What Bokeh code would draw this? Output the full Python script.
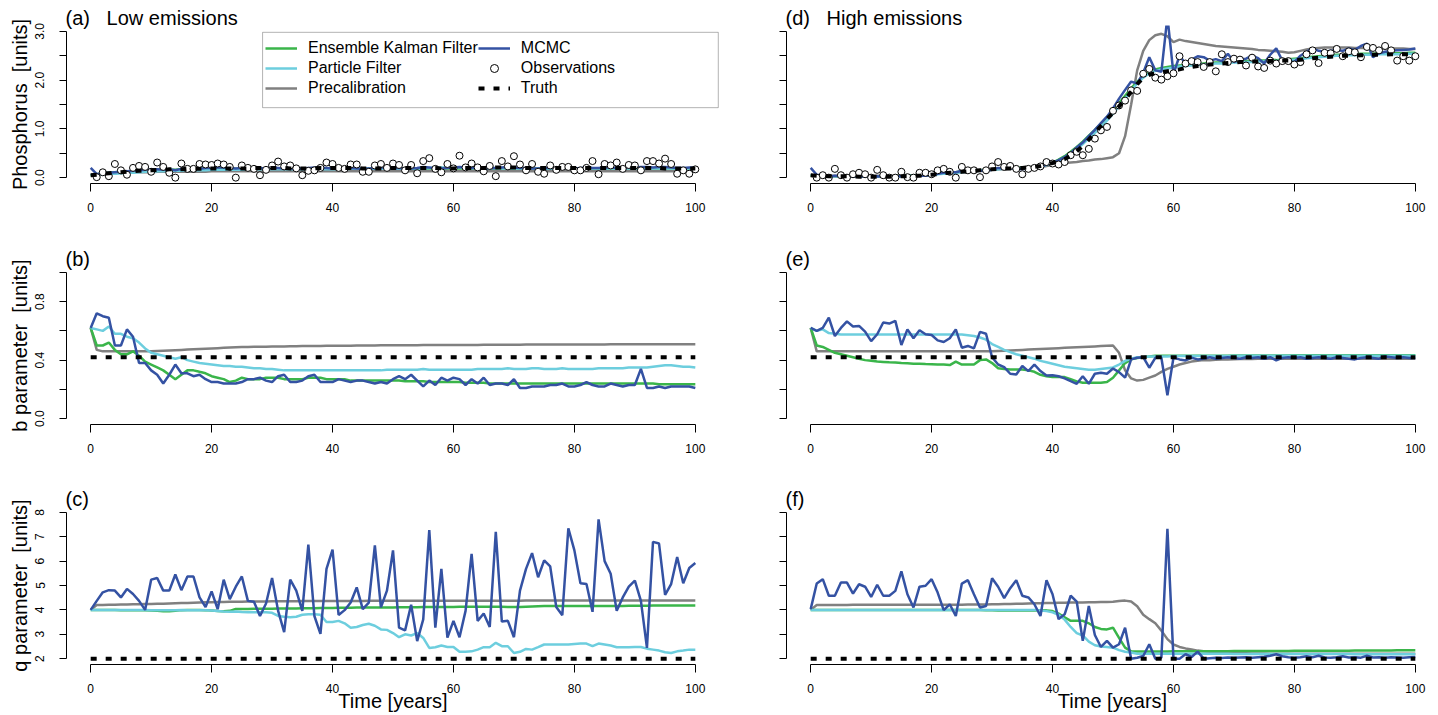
from bokeh.plotting import figure
from bokeh.layouts import column, row
from bokeh.models import FixedTicker, Legend, LegendItem, BoxAnnotation, Range1d
from bokeh.embed import file_html
from bokeh.resources import INLINE

FONT = "Liberation Sans"
C_ENKF = "#3AB54A"
C_PF = "#6DCEDE"
C_PRE = "#808080"
C_MCMC = "#3452A3"

years = list(range(101))
obs_years = list(range(1, 101))

# ---------------- (a) Low emissions, phosphorus ----------------
truth_a = [0.05,0.06,0.08,0.09,0.10,0.11,0.12,0.13,0.14,0.14,
           0.15,0.16,0.16,0.17,0.17,0.17,0.18,0.18,0.18,0.19,
           0.19,0.19,0.19,0.19,0.19,0.19,0.19,0.20,0.20,0.20,
           0.20,0.20,0.20,0.19,0.19,0.19,0.19,0.19,0.20,0.20,
           0.20,0.20,0.20,0.20,0.20,0.19,0.19,0.19,0.19,0.20,
           0.20,0.20,0.20,0.20,0.20,0.20,0.20,0.20,0.19,0.19,
           0.19,0.20,0.20,0.20,0.20,0.20,0.20,0.21,0.21,0.21,
           0.21,0.20,0.20,0.20,0.20,0.20,0.20,0.20,0.20,0.20,
           0.20,0.20,0.20,0.20,0.20,0.20,0.20,0.20,0.20,0.20,
           0.20,0.20,0.20,0.20,0.20,0.19,0.19,0.19,0.19,0.19,
           0.19]
obs_a = [0.01,0.11,0.03,0.28,0.15,0.06,0.20,0.24,0.22,0.12,
         0.31,0.22,0.10,0.00,0.29,0.18,0.18,0.28,0.27,0.26,
         0.29,0.27,0.22,0.00,0.25,0.20,0.18,0.05,0.16,0.25,
         0.33,0.23,0.25,0.19,0.05,0.14,0.15,0.20,0.31,0.28,
         0.20,0.18,0.27,0.27,0.12,0.12,0.25,0.28,0.20,0.29,
         0.26,0.15,0.26,0.09,0.34,0.40,0.18,0.11,0.28,0.19,
         0.45,0.21,0.29,0.21,0.13,0.24,0.03,0.34,0.23,0.44,
         0.27,0.15,0.28,0.12,0.08,0.25,0.16,0.22,0.22,0.15,
         0.15,0.20,0.34,0.07,0.28,0.25,0.31,0.18,0.26,0.25,
         0.15,0.34,0.34,0.29,0.39,0.28,0.08,0.15,0.08,0.17]
mcmc_a = [0.20,0.07,0.09,0.10,0.11,0.12,0.13,0.14,0.15,0.16,
          0.17,0.17,0.16,0.17,0.15,0.18,0.19,0.18,0.18,0.20,
          0.20,0.21,0.21,0.20,0.19,0.20,0.19,0.18,0.19,0.20,
          0.21,0.20,0.19,0.19,0.18,0.19,0.20,0.21,0.21,0.20,
          0.19,0.20,0.21,0.20,0.19,0.18,0.19,0.20,0.21,0.21,
          0.20,0.20,0.19,0.19,0.20,0.22,0.21,0.19,0.19,0.20,
          0.21,0.22,0.21,0.20,0.20,0.20,0.19,0.20,0.21,0.22,
          0.21,0.20,0.20,0.19,0.19,0.20,0.20,0.20,0.20,0.19,
          0.19,0.20,0.21,0.20,0.20,0.21,0.21,0.20,0.20,0.21,
          0.21,0.22,0.22,0.21,0.22,0.22,0.21,0.20,0.20,0.21,
          0.21]
enkf_a = [0.05,0.07,0.09,0.10,0.11,0.12,0.13,0.13,0.14,0.15,
          0.15,0.16,0.16,0.16,0.16,0.17,0.17,0.17,0.18,0.18,
          0.18,0.18,0.18,0.18,0.18,0.18,0.18,0.18,0.18,0.18,
          0.18,0.18,0.18,0.18,0.18,0.18,0.18,0.18,0.18,0.18,
          0.18,0.18,0.18,0.18,0.18,0.18,0.18,0.18,0.18,0.18,
          0.18,0.18,0.18,0.18,0.18,0.18,0.19,0.19,0.19,0.19,
          0.19,0.19,0.19,0.19,0.19,0.19,0.19,0.19,0.19,0.19,
          0.19,0.19,0.19,0.19,0.19,0.19,0.19,0.19,0.19,0.19,
          0.19,0.19,0.19,0.19,0.19,0.19,0.19,0.19,0.19,0.19,
          0.19,0.19,0.19,0.19,0.19,0.19,0.19,0.19,0.19,0.19,
          0.19]
pf_a = [0.05,0.06,0.07,0.08,0.08,0.09,0.10,0.10,0.11,0.12,
        0.12,0.13,0.13,0.14,0.14,0.14,0.15,0.15,0.15,0.15,
        0.16,0.16,0.16,0.16,0.16,0.16,0.17,0.17,0.17,0.17,
        0.17,0.17,0.17,0.17,0.17,0.17,0.17,0.17,0.17,0.17,
        0.17,0.17,0.17,0.18,0.18,0.18,0.18,0.18,0.18,0.18,
        0.18,0.18,0.18,0.19,0.19,0.19,0.20,0.21,0.21,0.21,
        0.21,0.21,0.21,0.20,0.20,0.20,0.20,0.20,0.19,0.19,
        0.19,0.19,0.19,0.19,0.19,0.19,0.19,0.19,0.19,0.19,
        0.19,0.19,0.19,0.19,0.19,0.19,0.19,0.19,0.19,0.19,
        0.19,0.19,0.19,0.19,0.19,0.19,0.19,0.19,0.19,0.19,
        0.19]
pre_a = [0.05,0.07,0.08,0.09,0.09,0.10,0.10,0.11,0.11,0.11,
         0.11,0.12,0.12,0.12,0.12,0.12,0.12,0.12,0.12,0.12,
         0.13,0.13,0.13,0.13,0.13,0.13,0.13,0.13,0.13,0.13,
         0.13,0.13,0.13,0.13,0.13,0.13,0.13,0.13,0.13,0.13,
         0.13,0.13,0.13,0.13,0.13,0.13,0.13,0.13,0.13,0.13,
         0.13,0.13,0.13,0.13,0.13,0.13,0.13,0.13,0.13,0.13,
         0.13,0.13,0.13,0.13,0.13,0.13,0.13,0.13,0.13,0.13,
         0.13,0.13,0.13,0.13,0.13,0.13,0.13,0.13,0.13,0.13,
         0.13,0.13,0.13,0.13,0.13,0.13,0.13,0.13,0.13,0.13,
         0.13,0.13,0.13,0.13,0.13,0.13,0.13,0.13,0.13,0.13,
         0.13]

# ---------------- (d) High emissions, phosphorus ----------------
truth_d = [0.05,0.04,0.04,0.03,0.03,0.03,0.03,0.03,0.02,0.02,
           0.02,0.02,0.02,0.02,0.03,0.03,0.03,0.04,0.04,0.05,
           0.06,0.07,0.09,0.10,0.11,0.12,0.13,0.14,0.15,0.16,
           0.17,0.18,0.19,0.19,0.20,0.20,0.21,0.22,0.24,0.27,
           0.30,0.34,0.38,0.45,0.54,0.65,0.78,0.92,1.06,1.20,
           1.33,1.46,1.60,1.76,1.92,2.05,2.11,2.14,2.16,2.18,
           2.20,2.22,2.25,2.27,2.29,2.31,2.32,2.33,2.34,2.35,
           2.36,2.37,2.37,2.38,2.38,2.39,2.39,2.40,2.40,2.40,
           2.41,2.42,2.43,2.45,2.46,2.47,2.48,2.49,2.50,2.50,
           2.50,2.51,2.51,2.52,2.52,2.52,2.53,2.53,2.53,2.53,
           2.54]
obs_d = [0.00,0.05,0.00,0.18,0.05,0.00,0.07,0.10,0.07,0.00,
         0.16,0.05,0.00,0.00,0.12,0.01,0.00,0.10,0.10,0.07,
         0.15,0.18,0.12,0.00,0.22,0.15,0.15,0.01,0.15,0.23,
         0.32,0.22,0.24,0.18,0.07,0.18,0.20,0.23,0.32,0.29,
         0.27,0.32,0.46,0.53,0.46,0.59,0.80,0.97,1.04,1.37,
         1.48,1.58,1.79,1.78,2.13,2.23,2.05,2.01,2.08,2.14,
         2.49,2.34,2.39,2.37,2.27,2.37,2.18,2.53,2.37,2.44,
         2.42,2.30,2.46,2.28,2.25,2.40,2.34,2.39,2.39,2.32,
         2.37,2.53,2.61,2.35,2.56,2.55,2.64,2.49,2.59,2.57,
         2.47,2.68,2.66,2.61,2.70,2.61,2.40,2.49,2.40,2.49]
mcmc_d = [0.20,0.06,0.05,0.02,0.04,0.03,0.02,0.03,0.02,0.03,
          0.02,0.03,0.02,0.02,0.03,0.03,0.02,0.03,0.04,0.04,
          0.05,0.08,0.10,0.11,0.11,0.14,0.14,0.15,0.14,0.14,
          0.16,0.20,0.19,0.20,0.18,0.17,0.19,0.20,0.22,0.27,
          0.30,0.36,0.42,0.50,0.62,0.72,0.85,0.98,1.12,1.25,
          1.42,1.62,1.80,1.97,1.93,2.15,2.47,2.20,2.17,3.30,
          2.13,2.50,2.34,2.42,2.49,2.47,2.40,2.43,2.39,2.54,
          2.37,2.42,2.44,2.50,2.45,2.34,2.52,2.65,2.40,2.38,
          2.37,2.50,2.58,2.65,2.60,2.58,2.60,2.61,2.60,2.65,
          2.62,2.70,2.75,2.47,2.55,2.58,2.60,2.61,2.62,2.63,
          2.65]
enkf_d = [0.05,0.04,0.04,0.03,0.03,0.03,0.03,0.03,0.03,0.03,
          0.03,0.03,0.03,0.03,0.03,0.04,0.04,0.04,0.05,0.05,
          0.06,0.08,0.09,0.10,0.11,0.12,0.13,0.14,0.15,0.16,
          0.17,0.18,0.19,0.20,0.20,0.21,0.21,0.22,0.24,0.27,
          0.31,0.37,0.44,0.53,0.63,0.74,0.86,0.98,1.11,1.24,
          1.38,1.53,1.68,1.83,1.97,2.08,2.17,2.22,2.25,2.27,
          2.29,2.30,2.31,2.32,2.33,2.34,2.35,2.36,2.36,2.37,
          2.38,2.38,2.39,2.39,2.40,2.40,2.41,2.41,2.42,2.43,
          2.44,2.45,2.47,2.48,2.49,2.50,2.51,2.52,2.52,2.53,
          2.53,2.54,2.54,2.54,2.55,2.55,2.55,2.55,2.55,2.56,
          2.56]
pf_d = [0.05,0.04,0.04,0.03,0.03,0.03,0.03,0.03,0.03,0.03,
        0.03,0.03,0.03,0.03,0.03,0.03,0.04,0.04,0.04,0.05,
        0.05,0.07,0.08,0.09,0.10,0.11,0.12,0.13,0.14,0.15,
        0.16,0.17,0.18,0.19,0.19,0.20,0.20,0.21,0.23,0.26,
        0.29,0.34,0.41,0.49,0.58,0.69,0.80,0.92,1.04,1.17,
        1.31,1.46,1.62,1.78,1.93,2.05,2.14,2.19,2.22,2.24,
        2.26,2.28,2.29,2.30,2.31,2.32,2.33,2.34,2.34,2.35,
        2.36,2.36,2.37,2.37,2.38,2.38,2.39,2.39,2.40,2.41,
        2.42,2.43,2.45,2.46,2.47,2.48,2.49,2.50,2.50,2.51,
        2.51,2.52,2.52,2.52,2.53,2.53,2.53,2.53,2.53,2.54,
        2.54]
pre_d = [0.05,0.04,0.04,0.04,0.04,0.04,0.04,0.04,0.04,0.04,
         0.04,0.04,0.04,0.04,0.04,0.05,0.05,0.05,0.06,0.06,
         0.07,0.08,0.09,0.10,0.11,0.12,0.13,0.14,0.15,0.16,
         0.16,0.17,0.17,0.18,0.18,0.19,0.19,0.20,0.22,0.24,
         0.26,0.28,0.30,0.31,0.32,0.34,0.35,0.37,0.38,0.40,
         0.42,0.50,0.85,1.50,2.20,2.60,2.82,2.92,2.95,2.90,
         2.78,2.83,2.80,2.78,2.76,2.74,2.72,2.70,2.69,2.68,
         2.67,2.66,2.65,2.64,2.62,2.61,2.60,2.59,2.58,2.56,
         2.57,2.60,2.63,2.65,2.66,2.67,2.67,2.67,2.67,2.67,
         2.66,2.66,2.66,2.66,2.65,2.65,2.65,2.65,2.65,2.64,
         2.64]

# ---------------- (b) Low emissions, b parameter ----------------
truth_b = [0.42] * len(years)
mcmc_b = [0.62,0.72,0.70,0.69,0.50,0.50,0.61,0.56,0.38,0.38,
          0.33,0.30,0.24,0.30,0.37,0.31,0.31,0.29,0.30,0.27,
          0.25,0.25,0.24,0.24,0.24,0.25,0.27,0.27,0.28,0.26,
          0.25,0.29,0.30,0.25,0.25,0.26,0.29,0.30,0.25,0.25,
          0.25,0.27,0.26,0.25,0.26,0.26,0.25,0.24,0.25,0.24,
          0.27,0.29,0.27,0.30,0.26,0.22,0.26,0.23,0.28,0.26,
          0.28,0.27,0.23,0.27,0.24,0.28,0.23,0.24,0.24,0.23,
          0.27,0.21,0.21,0.22,0.22,0.22,0.23,0.23,0.24,0.22,
          0.22,0.23,0.25,0.23,0.22,0.22,0.24,0.23,0.22,0.23,
          0.23,0.34,0.21,0.21,0.22,0.21,0.22,0.22,0.22,0.22,
          0.21]
enkf_b = [0.62,0.50,0.50,0.52,0.47,0.44,0.44,0.46,0.43,0.39,
          0.37,0.35,0.33,0.30,0.27,0.30,0.33,0.33,0.32,0.31,
          0.29,0.28,0.27,0.25,0.26,0.28,0.27,0.27,0.27,0.28,
          0.28,0.28,0.27,0.27,0.27,0.27,0.28,0.28,0.28,0.27,
          0.27,0.27,0.27,0.26,0.26,0.26,0.26,0.26,0.26,0.26,
          0.26,0.26,0.255,0.255,0.255,0.255,0.25,0.25,0.25,0.25,
          0.25,0.25,0.245,0.245,0.245,0.245,0.24,0.24,0.24,0.24,
          0.24,0.24,0.24,0.24,0.24,0.24,0.24,0.24,0.24,0.24,
          0.24,0.24,0.24,0.24,0.24,0.24,0.24,0.24,0.24,0.24,
          0.24,0.24,0.24,0.24,0.235,0.235,0.235,0.235,0.235,0.235,
          0.235]
pf_b = [0.62,0.61,0.60,0.63,0.58,0.58,0.56,0.55,0.52,0.48,
        0.45,0.44,0.43,0.42,0.41,0.42,0.40,0.39,0.38,0.375,
        0.37,0.365,0.36,0.36,0.355,0.355,0.35,0.345,0.345,0.34,
        0.34,0.335,0.33,0.33,0.33,0.33,0.33,0.33,0.33,0.33,
        0.33,0.33,0.33,0.33,0.33,0.33,0.33,0.33,0.33,0.335,
        0.335,0.335,0.335,0.335,0.335,0.34,0.335,0.335,0.335,0.335,
        0.335,0.335,0.335,0.335,0.34,0.34,0.34,0.34,0.34,0.345,
        0.34,0.34,0.34,0.345,0.345,0.34,0.34,0.34,0.345,0.34,
        0.34,0.34,0.34,0.34,0.345,0.345,0.345,0.345,0.345,0.35,
        0.35,0.35,0.35,0.355,0.36,0.365,0.365,0.36,0.355,0.355,
        0.35]
pre_b = [0.62,0.47,0.46,0.46,0.46,0.46,0.46,0.46,0.46,0.46,
         0.46,0.462,0.464,0.466,0.468,0.47,0.472,0.474,0.476,0.478,
         0.48,0.482,0.484,0.486,0.488,0.49,0.49,0.491,0.492,0.492,
         0.493,0.494,0.494,0.495,0.495,0.496,0.496,0.497,0.497,0.498,
         0.498,0.498,0.499,0.499,0.5,0.5,0.5,0.5,0.501,0.501,
         0.501,0.502,0.502,0.502,0.502,0.503,0.503,0.503,0.503,0.503,
         0.504,0.504,0.504,0.504,0.504,0.505,0.505,0.505,0.505,0.505,
         0.505,0.505,0.506,0.506,0.506,0.506,0.506,0.506,0.506,0.507,
         0.507,0.507,0.507,0.507,0.507,0.507,0.508,0.508,0.508,0.508,
         0.508,0.508,0.508,0.508,0.508,0.509,0.509,0.509,0.509,0.509,
         0.509]

# ---------------- (e) High emissions, b parameter ----------------
truth_e = [0.42] * len(years)
mcmc_e = [0.62,0.60,0.62,0.69,0.565,0.62,0.665,0.63,0.634,0.595,
          0.53,0.577,0.657,0.65,0.668,0.503,0.61,0.55,0.604,0.577,
          0.572,0.535,0.524,0.55,0.61,0.485,0.497,0.48,0.593,0.58,
          0.42,0.37,0.352,0.307,0.302,0.36,0.325,0.37,0.325,0.295,
          0.297,0.29,0.275,0.256,0.238,0.29,0.238,0.307,0.313,0.307,
          0.343,0.318,0.28,0.405,0.416,0.42,0.348,0.416,0.416,0.16,
          0.416,0.405,0.398,0.416,0.405,0.41,0.42,0.41,0.415,0.42,
          0.415,0.41,0.42,0.415,0.42,0.41,0.42,0.398,0.415,0.42,
          0.415,0.42,0.41,0.415,0.42,0.415,0.41,0.42,0.415,0.41,
          0.405,0.415,0.42,0.415,0.41,0.425,0.42,0.415,0.42,0.415,
          0.415]
enkf_e = [0.62,0.50,0.49,0.47,0.45,0.44,0.43,0.42,0.41,0.40,
          0.395,0.39,0.388,0.385,0.383,0.38,0.378,0.376,0.375,0.373,
          0.372,0.37,0.37,0.366,0.39,0.37,0.37,0.37,0.40,0.405,
          0.38,0.345,0.34,0.336,0.336,0.336,0.33,0.32,0.30,0.29,
          0.284,0.284,0.284,0.27,0.255,0.245,0.245,0.245,0.245,0.25,
          0.28,0.33,0.38,0.405,0.415,0.42,0.425,0.43,0.43,0.43,
          0.43,0.43,0.43,0.43,0.43,0.43,0.43,0.43,0.43,0.43,
          0.432,0.432,0.432,0.432,0.432,0.432,0.432,0.432,0.432,0.432,
          0.433,0.433,0.433,0.433,0.433,0.433,0.433,0.433,0.433,0.433,
          0.434,0.434,0.434,0.434,0.434,0.434,0.434,0.434,0.434,0.434,
          0.434]
pf_e = [0.62,0.60,0.61,0.585,0.58,0.575,0.575,0.575,0.575,0.575,
        0.575,0.575,0.575,0.575,0.575,0.575,0.575,0.575,0.575,0.575,
        0.575,0.575,0.575,0.575,0.575,0.575,0.57,0.565,0.555,0.54,
        0.51,0.49,0.47,0.455,0.44,0.43,0.42,0.41,0.395,0.385,
        0.375,0.365,0.355,0.35,0.345,0.34,0.335,0.335,0.34,0.345,
        0.35,0.37,0.395,0.41,0.42,0.42,0.425,0.425,0.425,0.425,
        0.428,0.428,0.428,0.428,0.428,0.428,0.428,0.428,0.428,0.428,
        0.43,0.43,0.43,0.43,0.43,0.43,0.43,0.43,0.43,0.43,
        0.43,0.43,0.43,0.43,0.43,0.43,0.43,0.43,0.43,0.43,
        0.43,0.43,0.43,0.43,0.43,0.43,0.43,0.43,0.43,0.43,
        0.43]
pre_e = [0.62,0.46,0.46,0.46,0.46,0.46,0.46,0.46,0.46,0.46,
         0.46,0.46,0.46,0.46,0.46,0.46,0.46,0.46,0.46,0.46,
         0.46,0.46,0.46,0.46,0.46,0.46,0.46,0.46,0.46,0.46,
         0.46,0.462,0.464,0.466,0.468,0.47,0.472,0.474,0.476,0.478,
         0.48,0.482,0.484,0.486,0.488,0.49,0.492,0.494,0.496,0.498,
         0.50,0.45,0.33,0.275,0.26,0.265,0.28,0.295,0.32,0.34,
         0.355,0.37,0.38,0.39,0.395,0.40,0.40,0.402,0.404,0.405,
         0.406,0.407,0.408,0.408,0.409,0.409,0.41,0.41,0.41,0.41,
         0.41,0.41,0.41,0.41,0.41,0.41,0.41,0.41,0.41,0.41,
         0.41,0.41,0.41,0.41,0.41,0.41,0.41,0.41,0.41,0.41,
         0.41]

# ---------------- (c) Low emissions, q parameter ----------------
truth_c = [2.0] * len(years)
mcmc_c = [4.00,4.37,4.72,4.81,4.79,4.51,4.86,4.65,4.37,4.00,
          5.24,5.31,4.79,4.79,5.45,4.81,5.37,5.37,4.51,4.12,
          4.76,4.03,5.24,4.44,4.95,5.37,4.37,4.33,3.75,4.26,
          5.31,3.96,3.09,5.24,4.79,3.96,6.68,3.75,3.02,5.68,
          6.47,3.79,3.99,4.30,4.92,4.03,4.30,6.65,4.10,4.79,
          6.44,3.27,3.16,4.21,2.72,3.61,7.27,3.27,5.68,2.86,
          3.55,2.88,3.96,6.30,3.55,3.85,3.30,7.20,3.52,3.55,
          2.88,4.79,5.68,6.33,5.34,6.03,5.78,4.12,3.78,7.34,
          6.44,5.09,5.06,3.92,7.71,6.00,5.48,3.96,4.51,4.95,
          5.20,4.37,2.44,6.79,6.72,4.62,5.06,6.17,5.09,5.72,
          5.92]
enkf_c = [4.00,4.00,4.00,4.00,4.00,3.99,3.99,3.99,3.98,3.98,
          3.97,3.96,3.94,3.94,3.96,3.99,4.00,4.00,4.00,3.99,
          3.97,3.95,3.94,3.96,4.04,4.04,4.04,4.05,4.05,4.05,
          4.05,4.06,4.06,4.06,4.06,4.07,4.07,4.07,4.08,4.08,
          4.08,4.09,4.09,4.09,4.10,4.10,4.10,4.10,4.10,4.10,
          4.10,4.11,4.11,4.11,4.11,4.12,4.12,4.12,4.12,4.12,
          4.12,4.13,4.13,4.13,4.13,4.13,4.13,4.13,4.13,4.12,
          4.12,4.12,4.13,4.14,4.15,4.16,4.16,4.16,4.16,4.16,
          4.16,4.16,4.16,4.16,4.16,4.16,4.16,4.16,4.16,4.17,
          4.17,4.17,4.17,4.18,4.18,4.18,4.18,4.18,4.18,4.18,
          4.18]
pf_c = [4.00,4.00,4.00,4.00,4.00,4.00,4.00,4.00,4.00,4.00,
        3.99,3.99,3.99,3.99,3.99,4.00,3.99,3.99,3.98,3.98,
        3.97,3.95,3.93,3.92,3.93,3.91,3.90,3.90,3.90,3.90,
        3.88,3.75,3.72,3.70,3.72,3.80,3.82,3.82,3.80,3.50,
        3.50,3.55,3.45,3.27,3.30,3.38,3.43,3.35,3.20,3.18,
        3.05,2.88,3.00,2.95,3.05,2.85,2.44,2.47,2.54,2.48,
        2.48,2.28,2.28,2.30,2.37,2.47,2.47,2.65,2.51,2.51,
        2.23,2.28,2.40,2.37,2.47,2.58,2.58,2.58,2.58,2.58,
        2.60,2.62,2.62,2.51,2.62,2.58,2.54,2.47,2.47,2.47,
        2.48,2.48,2.41,2.37,2.33,2.26,2.23,2.30,2.33,2.37,
        2.37]
pre_c = [4.00,4.20,4.20,4.21,4.21,4.22,4.22,4.23,4.23,4.24,
         4.24,4.25,4.25,4.26,4.27,4.28,4.28,4.29,4.30,4.31,
         4.31,4.32,4.32,4.33,4.33,4.33,4.34,4.34,4.34,4.34,
         4.35,4.35,4.35,4.35,4.35,4.36,4.36,4.36,4.36,4.36,
         4.36,4.36,4.36,4.36,4.36,4.36,4.37,4.37,4.37,4.37,
         4.37,4.37,4.37,4.37,4.37,4.37,4.37,4.37,4.37,4.37,
         4.37,4.37,4.37,4.37,4.37,4.37,4.37,4.37,4.37,4.37,
         4.37,4.37,4.38,4.38,4.38,4.38,4.38,4.38,4.38,4.38,
         4.38,4.38,4.38,4.38,4.38,4.38,4.38,4.38,4.38,4.38,
         4.38,4.38,4.38,4.38,4.38,4.38,4.38,4.38,4.38,4.38,
         4.38]

# ---------------- (f) High emissions, q parameter ----------------
truth_f = [2.0] * len(years)
mcmc_f = [4.03,5.08,5.26,4.58,4.58,5.12,5.12,4.67,5.05,4.95,
          4.53,5.03,4.58,4.58,4.78,5.58,4.64,4.10,4.95,4.99,
          5.26,4.71,3.99,4.23,3.75,5.08,5.22,4.64,4.10,4.16,
          5.30,4.95,4.48,4.89,5.22,4.58,4.51,4.23,3.75,5.22,
          4.64,3.62,3.82,4.58,4.34,2.73,4.16,2.97,2.48,2.73,
          2.45,2.59,3.27,2.00,2.04,2.11,2.59,2.00,2.04,7.32,
          2.00,2.00,2.18,2.07,2.29,2.00,2.02,2.04,2.03,2.05,
          2.04,2.05,2.06,2.04,2.06,2.08,2.12,2.18,2.10,2.06,
          2.04,2.06,2.10,2.06,2.12,2.05,2.04,2.06,2.10,2.05,
          2.06,2.04,2.12,2.05,2.06,2.04,2.06,2.05,2.04,2.06,
          2.07]
enkf_f = [4.00,4.00,4.00,4.00,4.00,4.00,4.00,4.00,4.00,4.00,
          4.00,4.00,4.00,4.00,4.00,4.00,4.00,4.00,4.00,4.00,
          4.00,4.00,4.00,4.00,4.00,4.00,4.00,4.00,4.00,3.99,
          3.98,3.97,3.97,3.97,3.97,3.97,3.97,3.97,3.98,3.98,
          3.95,3.85,3.70,3.55,3.55,3.55,3.45,3.30,3.22,3.20,
          3.27,2.85,2.45,2.30,2.29,2.29,2.29,2.29,2.29,2.29,
          2.30,2.30,2.30,2.30,2.30,2.30,2.30,2.30,2.30,2.30,
          2.31,2.31,2.31,2.31,2.31,2.31,2.31,2.31,2.31,2.31,
          2.32,2.32,2.32,2.32,2.32,2.32,2.32,2.32,2.32,2.32,
          2.33,2.33,2.33,2.33,2.33,2.33,2.33,2.34,2.34,2.34,
          2.34]
pf_f = [4.00,4.00,4.00,4.00,4.00,4.00,4.00,4.00,4.00,4.00,
        4.00,4.00,4.00,4.00,4.00,4.00,4.00,4.00,4.00,4.00,
        4.00,4.00,4.00,4.00,4.00,4.00,4.00,4.00,4.00,4.00,
        4.00,4.00,4.00,4.00,4.00,4.00,4.00,4.00,3.97,3.95,
        3.90,3.80,3.60,3.30,3.05,2.95,2.70,2.55,2.50,2.48,
        2.45,2.35,2.28,2.25,2.20,2.20,2.20,2.20,2.20,2.20,
        2.20,2.20,2.20,2.20,2.20,2.20,2.20,2.20,2.20,2.20,
        2.19,2.19,2.19,2.19,2.19,2.19,2.19,2.19,2.19,2.19,
        2.19,2.19,2.19,2.19,2.19,2.19,2.19,2.19,2.19,2.19,
        2.18,2.18,2.18,2.18,2.18,2.18,2.18,2.18,2.18,2.18,
        2.18]
pre_f = [4.00,4.20,4.20,4.20,4.20,4.20,4.20,4.21,4.21,4.21,
         4.21,4.21,4.21,4.21,4.21,4.21,4.21,4.21,4.21,4.21,
         4.21,4.21,4.21,4.21,4.21,4.21,4.22,4.22,4.22,4.22,
         4.23,4.23,4.24,4.24,4.25,4.25,4.26,4.27,4.27,4.28,
         4.28,4.29,4.29,4.30,4.30,4.30,4.31,4.31,4.32,4.32,
         4.33,4.36,4.38,4.34,4.15,3.80,3.62,3.45,3.15,2.80,
         2.58,2.48,2.42,2.38,2.33,2.30,2.28,2.26,2.25,2.24,
         2.23,2.22,2.22,2.21,2.21,2.21,2.20,2.20,2.20,2.20,
         2.20,2.20,2.20,2.20,2.20,2.20,2.20,2.20,2.20,2.20,
         2.20,2.20,2.20,2.20,2.20,2.20,2.20,2.20,2.20,2.20,
         2.20]

x_ticks = [0, 20, 40, 60, 80, 100]
row_cfg = [
    dict(yr=(-0.12, 3.12), ticks=[0, 0.5, 1.0, 1.5, 2.0, 2.5, 3.0],
         labels={0: "0.0", 0.5: "", 1.0: "1.0", 1.5: "", 2.0: "2.0", 2.5: "", 3.0: "3.0"},
         bounds=(0, 3), ylab="Phosphorus\u00a0 [units]", top=25, bottom=62),
    dict(yr=(-0.04, 1.04), ticks=[0, 0.2, 0.4, 0.6, 0.8, 1.0],
         labels={0: "0.0", 0.2: "", 0.4: "0.4", 0.6: "", 0.8: "0.8", 1.0: ""},
         bounds=(0, 1), ylab="b parameter\u00a0 [units]", top=21, bottom=61),
    dict(yr=(1.76, 8.24), ticks=[2, 3, 4, 5, 6, 7, 8],
         labels={2: "2", 3: "3", 4: "4", 5: "5", 6: "6", 7: "7", 8: "8"},
         bounds=(2, 8), ylab="q parameter\u00a0 [units]", top=21, bottom=51),
]

LEFT_FW = 653
RIGHT_FW = 652
PX_PER_YEAR = LEFT_FW / 108.0


def panel(left, ri, title, pre, enkf, pf, mcmc, truth, obs=None, legend=False):
    cfg = row_cfg[ri]
    fw = LEFT_FW if left else RIGHT_FW
    p = figure(frame_width=fw, frame_height=158,
               x_range=Range1d(-4, -4 + fw / PX_PER_YEAR),
               y_range=Range1d(*cfg["yr"]),
               min_border_left=66 if left else 30,
               min_border_right=37 if left else 0,
               min_border_top=cfg["top"], min_border_bottom=cfg["bottom"],
               output_backend="svg", toolbar_location=None)
    p.xgrid.visible = False
    p.ygrid.visible = False
    p.outline_line_color = None
    p.background_fill_color = "white"
    p.border_fill_color = "white"

    p.title.text = title
    p.title.align = "left"
    p.title.offset = -1
    p.title.standoff = -6
    p.title.text_font = FONT
    p.title.text_font_size = "20px"
    p.title.text_font_style = "normal"
    p.title.text_color = "black"

    xa = p.xaxis[0]
    xa.ticker = FixedTicker(ticks=x_ticks)
    xa.bounds = (0, 100)
    xa.major_tick_in = 0
    xa.major_tick_out = 8
    xa.minor_tick_in = 0
    xa.minor_tick_out = 0
    xa.major_label_standoff = 11
    xa.major_label_text_font = FONT
    xa.major_label_text_font_size = "12px"
    xa.major_label_text_color = "black"
    xa.axis_line_color = "black"
    xa.major_tick_line_color = "black"
    if ri == 2:
        xa.axis_label = "Time [years]"
        xa.axis_label_text_font = FONT
        xa.axis_label_text_font_size = "20px"
        xa.axis_label_text_font_style = "normal"
        xa.axis_label_text_color = "black"
        xa.axis_label_standoff = -6

    ya = p.yaxis[0]
    ya.ticker = FixedTicker(ticks=cfg["ticks"])
    ya.bounds = cfg["bounds"]
    ya.major_tick_in = 0
    ya.major_tick_out = 7
    ya.minor_tick_in = 0
    ya.minor_tick_out = 0
    ya.axis_line_color = "black"
    ya.major_tick_line_color = "black"
    ya.major_label_orientation = "vertical"
    ya.major_label_text_font = FONT
    ya.major_label_text_color = "black"
    if left:
        ya.major_label_overrides = cfg["labels"]
        ya.major_label_standoff = 15
        ya.major_label_text_font_size = "12px"
        ya.axis_label = cfg["ylab"]
        ya.axis_label_text_font = FONT
        ya.axis_label_text_font_size = "20px"
        ya.axis_label_text_font_style = "normal"
        ya.axis_label_text_color = "black"
        ya.axis_label_standoff = 2
    else:
        ya.major_label_text_font_size = "0px"
        ya.major_label_text_alpha = 0

    r_pre = p.line(years, pre, line_color=C_PRE, line_width=2.5)
    r_enkf = p.line(years, enkf, line_color=C_ENKF, line_width=2.5)
    r_pf = p.line(years, pf, line_color=C_PF, line_width=2.5)
    r_mcmc = p.line(years, mcmc, line_color=C_MCMC, line_width=2.5)
    r_obs = None
    if obs is not None:
        r_obs = p.scatter(obs_years, obs, marker="circle", size=7,
                          fill_color="white", line_color="black", line_width=1)
    r_truth = p.line(years, truth, line_color="black", line_width=4, line_dash="6 9")

    if legend:
        p.add_layout(BoxAnnotation(left=28.43, right=103.8, top=2.98, bottom=1.435,
                                   fill_color=None, line_color="black", line_width=1))
        items = [LegendItem(label="Ensemble Kalman Filter", renderers=[r_enkf]),
                 LegendItem(label="Particle Filter", renderers=[r_pf]),
                 LegendItem(label="Precalibration", renderers=[r_pre]),
                 LegendItem(label="MCMC", renderers=[r_mcmc]),
                 LegendItem(label="Observations", renderers=[r_obs]),
                 LegendItem(label="Truth", renderers=[r_truth])]
        lg = Legend(items=items, ncols=2, location=(199, 85),
                    border_line_color=None, background_fill_alpha=0,
                    padding=0, margin=0, spacing=0,
                    glyph_width=32, glyph_height=20, label_height=20,
                    label_standoff=11, label_text_font=FONT,
                    label_text_font_size="16px", label_text_color="black")
        p.add_layout(lg)
    return p


NB = "\u00a0\u00a0\u00a0"
pa = panel(True, 0, "(a)" + NB + "Low emissions", pre_a, enkf_a, pf_a, mcmc_a, truth_a, obs_a, legend=True)
pd_ = panel(False, 0, "(d)" + NB + "High emissions", pre_d, enkf_d, pf_d, mcmc_d, truth_d, obs_d)
pb = panel(True, 1, "(b)", pre_b, enkf_b, pf_b, mcmc_b, truth_b)
pe = panel(False, 1, "(e)", pre_e, enkf_e, pf_e, mcmc_e, truth_e)
pc = panel(True, 2, "(c)", pre_c, enkf_c, pf_c, mcmc_c, truth_c)
pf_ = panel(False, 2, "(f)", pre_f, enkf_f, pf_f, mcmc_f, truth_f)

layout = column(row(pa, pd_), row(pb, pe), row(pc, pf_))
open("out.html", "w").write(file_html(layout, INLINE))
